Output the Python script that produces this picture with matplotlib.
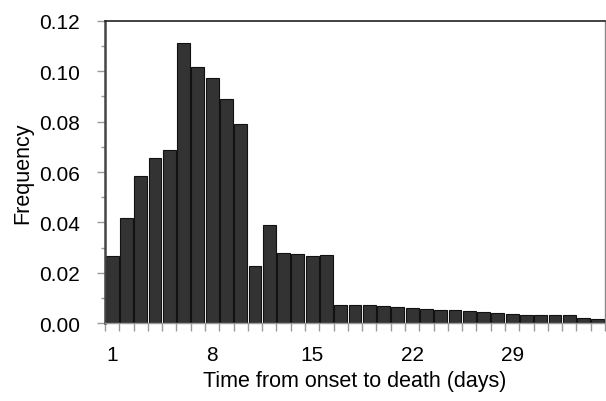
import numpy as np
import matplotlib
matplotlib.use("Agg")
import matplotlib.pyplot as plt
from matplotlib.ticker import MultipleLocator, FixedLocator

plt.rcParams['font.family'] = ['Liberation Sans', 'DejaVu Sans']

# frequency of time from onset to death, days 1..35
days = list(range(1, 36))
freq = [0.0266, 0.0417, 0.0585, 0.0657, 0.0687, 0.1112, 0.1016, 0.0972, 0.0889, 0.0791,
        0.0226, 0.0391, 0.0279, 0.0275, 0.0266, 0.0271, 0.0072, 0.0072, 0.0072, 0.0067,
        0.0064, 0.0059, 0.0054, 0.0051, 0.0050, 0.0049, 0.0045, 0.0040, 0.0036, 0.0032,
        0.0032, 0.0032, 0.0032, 0.0020, 0.0016]
xtick_vals = [1, 8, 15, 22, 29]

fig = plt.figure(figsize=(6.06, 4.02), dpi=100)
ax = fig.add_axes([0.1733, 0.194, 0.825, 0.7513])

ax.bar(days, freq, width=0.9, color='#333333', edgecolor='#111111', linewidth=0.8)

ax.set_xlim(0.5, 35.5)
ax.set_ylim(0, 0.12)

ax.xaxis.set_major_locator(FixedLocator(xtick_vals))
ax.xaxis.set_minor_locator(FixedLocator(np.arange(0.5, 35.6, 1.0)))
ax.yaxis.set_major_locator(MultipleLocator(0.02))
ax.yaxis.set_minor_locator(MultipleLocator(0.01))
ax.yaxis.set_major_formatter(matplotlib.ticker.FormatStrFormatter('%.2f'))

ax.tick_params(axis='x', which='major', length=0, pad=16, labelsize=15)
ax.tick_params(axis='x', which='minor', length=6, width=1, color='#999999')
ax.tick_params(axis='y', which='major', length=6, width=1, color='#999999', pad=12, labelsize=15)
ax.tick_params(axis='y', which='minor', length=3, width=1, color='#999999')

ax.spines['left'].set_color('#444444')
ax.spines['left'].set_linewidth(1.8)
ax.spines['top'].set_color('#222222')
ax.spines['top'].set_linewidth(1.2)
ax.spines['right'].set_color('#888888')
ax.spines['right'].set_linewidth(1.0)
ax.spines['bottom'].set_color('#999999')
ax.spines['bottom'].set_linewidth(1.0)

ax.set_xlabel('Time from onset to death (days)', fontsize=15.5, labelpad=4)
ax.set_ylabel('Frequency', fontsize=15.5, labelpad=4)

fig.savefig('out.png', dpi=100)
